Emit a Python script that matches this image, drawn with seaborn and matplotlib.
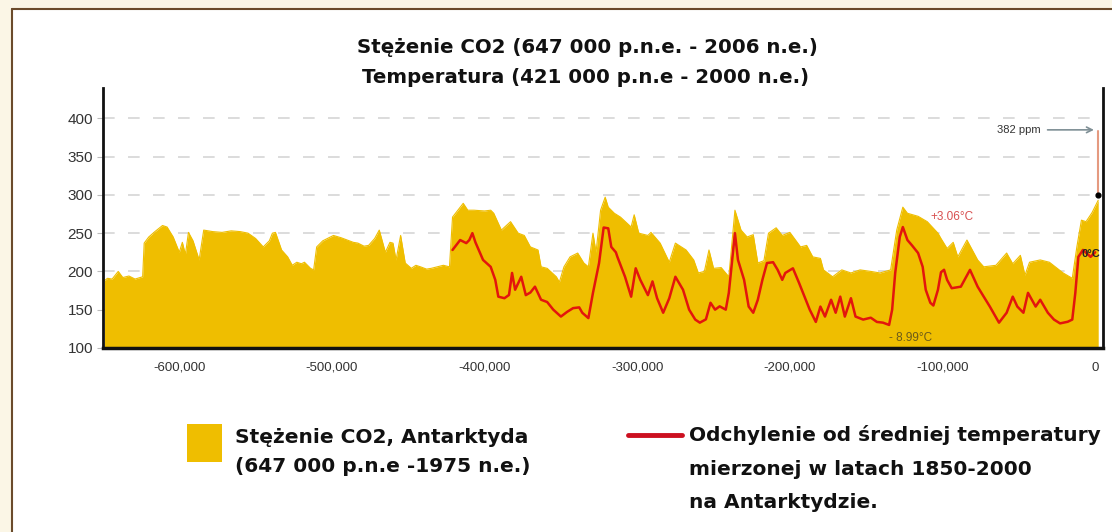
import numpy as np
import pandas as pd
import seaborn as sns
import matplotlib.pyplot as plt
from matplotlib.patches import Rectangle
from matplotlib.lines import Line2D

# CO2 concentration, Antarctic ice cores (thousands of years, ppm)
co2_kyr = [-649, -647, -644, -640, -637, -633, -629, -624, -623, -620, -616, -611, -608, -604,
           -600, -598, -596, -594, -591, -587, -584, -578, -572, -566, -560, -555, -550, -545,
           -541, -539, -537, -533, -529, -526, -523, -520, -518, -514, -512, -510, -506, -503,
           -499, -494, -490, -486, -483, -479, -476, -472, -469, -465, -462, -460, -458, -455,
           -452, -448, -445, -442, -438, -435, -431, -427, -423, -421, -414, -411, -407, -400,
           -396, -394, -389, -383, -378, -374, -370, -365, -363, -359, -353, -351, -348, -344,
           -339, -335, -332, -329, -327, -324, -321, -319, -315, -311, -304, -302, -299, -293,
           -291, -285, -279, -275, -268, -263, -260, -256, -253, -250, -245, -240, -236, -232,
           -228, -224, -221, -217, -214, -209, -205, -200, -193, -189, -185, -180, -178, -172,
           -166, -160, -154, -147, -141, -134, -130, -126, -123, -116, -110, -103, -101, -97,
           -93, -90, -84, -77, -73, -65, -58, -54, -49, -46, -43, -36, -30, -21, -15, -12, -9,
           -6, -2, 2]
co2_ppm = [188, 191, 190, 200, 192, 194, 190, 193, 237, 245, 252, 260, 258, 245,
           225, 238, 222, 251, 240, 215, 254, 252, 251, 253, 252, 250, 243, 232,
           240, 250, 251, 228, 219, 208, 212, 210, 212, 204, 202, 232, 240, 243,
           247, 244, 241, 238, 237, 233, 234, 243, 254, 225, 238, 237, 215, 247,
           211, 204, 208, 206, 203, 204, 206, 208, 206, 271, 289, 280, 280, 279,
           280, 276, 254, 265, 250, 247, 232, 228, 206, 204, 193, 186, 206, 219,
           224, 211, 206, 250, 225, 280, 297, 284, 276, 271, 258, 274, 250, 247,
           251, 237, 212, 237, 228, 215, 198, 200, 228, 204, 205, 193, 280, 254,
           245, 248, 211, 214, 250, 257, 247, 251, 232, 234, 219, 217, 202, 193,
           202, 198, 202, 200, 198, 202, 254, 284, 276, 272, 265, 250, 243, 230,
           238, 219, 241, 215, 206, 208, 224, 210, 221, 195, 212, 215, 212, 198, 191, 232, 267,
           265, 277, 293]

# temperature anomaly vs 1850-2000 mean (thousands of years, deg C)
temp_kyr = [-421, -416, -412, -410, -408, -406, -401, -396, -393, -391, -387, -384, -382, -380,
            -376, -373, -370, -367, -363, -359, -355, -350, -346, -342, -338, -336, -332, -329,
            -325, -322, -319, -317, -314, -313, -308, -304, -301, -298, -293, -290, -287, -283,
            -279, -275, -270, -266, -262, -259, -255, -252, -249, -246, -242, -240, -238, -236,
            -234, -230, -227, -224, -221, -218, -215, -211, -208, -205, -203, -198, -194, -190,
            -187, -183, -180, -177, -173, -170, -167, -164, -160, -157, -152, -147, -143, -139,
            -135, -133, -131, -128, -126, -123, -120, -116, -113, -111, -108, -106, -103, -101,
            -99, -97, -94, -88, -82, -77, -73, -69, -63, -58, -54, -51, -47, -44, -39, -36, -31,
            -27, -23, -18, -15, -13, -11, -8, -3, 0]
temp_c = [0.24, 1.46, 1.08, 1.46, 2.31, 1.18, -0.99, -1.84, -3.44, -5.51, -5.70, -5.3, -2.59, -4.66,
          -3.06, -5.32, -5.0, -4.28, -5.89, -6.17, -7.11, -7.96, -7.39, -6.92, -6.83, -7.49, -8.15, -5.04,
          -1.37, 3.0, 2.9, 0.61, -0.05, -0.61, -3.06, -5.51, -2.02, -3.44, -5.32, -3.63, -5.70, -7.49,
          -5.70, -3.06, -4.66, -7.11, -8.33, -8.71, -8.3, -6.26, -7.11, -6.7, -7.11, -5.04, -1.37, 2.31,
          -0.99, -3.44, -6.73, -7.49, -5.89, -3.44, -1.37, -1.27, -2.21, -3.44, -2.59, -2.02, -3.81, -5.70,
          -7.11, -8.62, -6.73, -7.96, -5.89, -7.49, -5.51, -7.96, -5.70, -7.96, -8.33, -8.1, -8.62, -8.71,
          -8.99, -7.11, -2.59, 1.84, 3.06, 1.46, 0.8, -0.14, -1.84, -4.66, -6.26, -6.6, -4.66, -2.50,
          -2.2, -3.44, -4.47, -4.28, -2.21, -4.28, -5.51, -6.73, -8.71, -7.49, -5.51, -6.73, -7.49, -5.04, -6.73, -5.89, -7.49,
          -8.33, -8.8, -8.6, -8.33, -5.04, -0.61, 0.24, -0.61, -0.05]

y_ticks = [100, 150, 200, 250, 300, 350, 400]
x_ticks = [-600000, -500000, -400000, -300000, -200000, -100000, 0]

co2 = pd.DataFrame({'year': np.array(co2_kyr) * 1000, 'ppm': co2_ppm})
temp = pd.DataFrame({'year': np.array(temp_kyr) * 1000, 'anomaly': temp_c})

YELLOW = '#efbe00'
RED = '#e3150d'

sns.set_style('white')
plt.rcParams['font.family'] = ['Liberation Sans', 'DejaVu Sans']

fig = plt.figure(figsize=(11.12, 5.32), dpi=100)
ax = fig.add_axes([0.0926, 0.346, 0.8994, 0.489])

# CO2 area
ax.fill_between(co2['year'], 100, co2['ppm'], color=YELLOW, lw=0, zorder=2)
sns.lineplot(data=co2, x='year', y='ppm', ax=ax, color=YELLOW, lw=0.8, zorder=2)

ax.set_xlim(-649000, 5200)
ax.set_ylim(100, 440)
ax.set_yticks(y_ticks)
ax.set_xticks(x_ticks)
ax.set_xticks([t - 50000 for t in x_ticks], minor=True)
ax.set_xticklabels([f'{t:,}' for t in x_ticks], fontsize=9.5, color='#333333')
ax.set_yticklabels([str(t) for t in y_ticks], fontsize=11, color='#333333')
ax.tick_params(axis='x', which='both', length=4, color='#bbbbbb', pad=6, direction='out')
ax.tick_params(axis='y', length=4, color='#bbbbbb', pad=3)
ax.set_xlabel('')
ax.set_ylabel('')
for t in y_ticks[1:]:
    ax.axhline(t, color='#d6d6d6', lw=1.2, ls=(0, (7, 8)), zorder=1)
ax.spines['top'].set_visible(False)
ax.spines['left'].set_linewidth(2)
ax.spines['right'].set_linewidth(2)
ax.spines['bottom'].set_linewidth(2.5)
for s in ['left', 'right', 'bottom']:
    ax.spines[s].set_color('#111111')

# temperature on an invisible twin scale
ax2 = ax.twinx()
sns.lineplot(data=temp, x='year', y='anomaly', ax=ax2, color=RED, lw=1.8)
ax2.set_ylim(-11.82, 20.2)
ax2.set_yticks([])
ax2.set_ylabel('')
for s in ax2.spines.values():
    s.set_visible(False)

# annotations
ax.annotate('', xy=(1000, 385), xytext=(-33000, 385),
            arrowprops=dict(arrowstyle='->', color='#7f8f95', lw=1.2))
ax.text(-36000, 385, '382 ppm', fontsize=8, color='#333333', ha='right', va='center')
ax.plot([2000, 2000], [383, 301], color='#e59a80', lw=1.5, zorder=4)
ax.scatter([2000], [300], color='black', s=12, zorder=5)
ax2.text(-108000, 4.3, '+3.06°C', fontsize=8.5, color='#d85050', ha='left', va='center')
ax2.text(-135000, -10.6, '- 8.99°C', fontsize=8.5, color='#6b5a1a', ha='left', va='center')
ax2.text(-3000, -0.3, '0°C', fontsize=8, color='#222222', ha='center', va='center', fontweight='bold')

# title
title_font = ['DejaVu Sans']
fig.text(0.528, 0.91, 'Stężenie CO2 (647 000 p.n.e. - 2006 n.e.)', ha='center', va='center',
         fontsize=14.2, fontweight='bold', color='#111111', family=title_font)
fig.text(0.527, 0.855, 'Temperatura (421 000 p.n.e - 2000 n.e.)', ha='center', va='center',
         fontsize=14.2, fontweight='bold', color='#111111', family=title_font)

# legend
leg_font = ['DejaVu Sans']
fig.add_artist(Rectangle((0.168, 0.132), 0.032, 0.071, transform=fig.transFigure,
                         facecolor=YELLOW, edgecolor='none'))
fig.text(0.211, 0.177, 'Stężenie CO2, Antarktyda', fontsize=14.5, fontweight='bold',
         va='center', ha='left', family=leg_font, color='#111111')
fig.text(0.211, 0.124, '(647 000 p.n.e -1975 n.e.)', fontsize=14.5, fontweight='bold',
         va='center', ha='left', family=leg_font, color='#111111')
fig.add_artist(Line2D([0.565, 0.613], [0.182, 0.182], transform=fig.transFigure,
                      color='#cc1020', lw=3.5))
fig.text(0.62, 0.182, 'Odchylenie od średniej temperatury', fontsize=14.5, fontweight='bold',
         va='center', ha='left', family=leg_font, color='#111111')
fig.text(0.62, 0.117, 'mierzonej w latach 1850-2000', fontsize=14.5, fontweight='bold',
         va='center', ha='left', family=leg_font, color='#111111')
fig.text(0.62, 0.055, 'na Antarktydzie.', fontsize=14.5, fontweight='bold',
         va='center', ha='left', family=leg_font, color='#111111')

# cream frame at top and left
fig.add_artist(Rectangle((0, 0.985), 1, 0.015, transform=fig.transFigure,
                         facecolor='#fbf6e6', edgecolor='none'))
fig.add_artist(Rectangle((0, 0), 0.0105, 1, transform=fig.transFigure,
                         facecolor='#fbf6e6', edgecolor='none'))
fig.add_artist(Line2D([0.0105, 1], [0.984, 0.984], transform=fig.transFigure,
                      color='#6b4b2b', lw=1.5))
fig.add_artist(Line2D([0.0105, 0.0105], [0, 0.984], transform=fig.transFigure,
                      color='#6b4b2b', lw=1.5))

fig.savefig('out.png', dpi=100)
